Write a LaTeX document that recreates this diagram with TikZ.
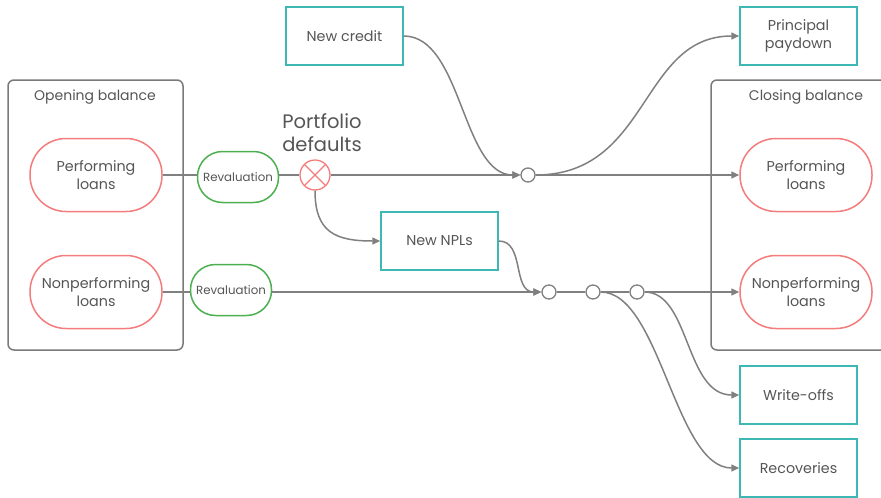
\documentclass[tikz,border=0pt]{standalone}
\usepackage{fontspec}
\setmainfont{Poppins}
\usetikzlibrary{arrows.meta}
\definecolor{flow}{HTML}{808080}
\definecolor{tealbox}{HTML}{3DB8B5}
\definecolor{loanred}{HTML}{F47C7C}
\definecolor{revgreen}{HTML}{4CAF50}
\definecolor{txt}{HTML}{555555}
\definecolor{frame}{HTML}{7A7A7A}
\begin{document}
\begin{tikzpicture}[x=1pt,y=-1pt,
  flowline/.style={draw=flow, line width=1.5pt},
  arr/.style={-{Triangle[length=8pt,width=7pt]}},
  basetext/.style={text=txt, align=center, inner sep=0pt, font=\fontsize{14.3}{18}\selectfont},
  stadium/.style={basetext, draw=loanred, line width=1.5pt, rounded corners=36pt,
    minimum width=132pt, minimum height=73pt},
  revbox/.style={basetext, draw=revgreen, line width=1.5pt, rounded corners=25pt,
    minimum width=81pt, minimum height=51pt, font=\fontsize{11.8}{14}\selectfont},
  account/.style={basetext, draw=tealbox, line width=1.5pt,
    minimum width=117pt, minimum height=58pt},
  junction/.style={circle, draw=flow, line width=1.3pt, fill=white,
    minimum size=14pt, inner sep=0pt},
  group/.style={draw=frame, line width=1.5pt, rounded corners=6pt, inner sep=0pt},
  defaultmark/.style={circle, draw=loanred, line width=1.3pt, minimum size=30pt, inner sep=0pt,
    path picture={\draw[loanred, line width=1.3pt]
      ([shift={(-10.6pt,-10.6pt)}]path picture bounding box.center) -- ([shift={(10.6pt,10.6pt)}]path picture bounding box.center)
      ([shift={(-10.6pt,10.6pt)}]path picture bounding box.center) -- ([shift={(10.6pt,-10.6pt)}]path picture bounding box.center);}}
]
\clip (0,0) rectangle (881,498);
\useasboundingbox (0,0) rectangle (881,498);

% balance frames
\node[group, minimum width=175pt, minimum height=270pt] (openframe) at (95.5,215) {};
\node[basetext, font=\fontsize{14}{18}\selectfont] (opentitle) at (95,97) {Opening balance};
\node[group, minimum width=190pt, minimum height=270pt] (closeframe) at (806,215) {};
\node[basetext, font=\fontsize{14}{18}\selectfont] (closetitle) at (806,97) {Closing balance};

% loan stocks
\node[stadium] (openperf) at (96,175) {Performing\\loans};
\node[stadium] (opennpl) at (96,292) {Nonperforming\\loans};
\node[stadium, fill=white] (closeperf) at (806,175) {Performing\\loans};
\node[stadium, fill=white] (closenpl) at (806,292) {Nonperforming\\loans};

% revaluations and defaults
\node[revbox] (rev1) at (238,177) {Revaluation};
\node[revbox] (rev2) at (231,290) {Revaluation};
\node[defaultmark] (defaults) at (315,175) {};
\node[basetext, font=\fontsize{19.5}{23}\selectfont] (deftitle) at (322,133) {Portfolio\\defaults};

% flow accounts
\node[account] (newcredit) at (344.5,36) {New credit};
\node[account] (paydown) at (798.5,36) {Principal\\paydown};
\node[account] (newnpl) at (439.5,241) {New NPLs};
\node[account] (writeoffs) at (798.5,395) {Write-offs};
\node[account] (recoveries) at (798.5,468) {Recoveries};

% junctions
\node[junction] (j0) at (528,175) {};
\node[junction] (j1) at (549,292) {};
\node[junction] (j2) at (593,292) {};
\node[junction] (j3) at (637,292) {};

% performing flow
\draw[flowline] (openperf.east) -- (openperf.east -| rev1.west);
\draw[flowline] (rev1.east |- defaults.west) -- (defaults.west);
\draw[flowline, arr] (defaults.east) -- (j0.west);
\draw[flowline, arr] (newcredit.east) .. controls (462,36) and (462,175) .. (j0.west);
\draw[flowline, arr] (j0.east) -- (closeperf.west);
\draw[flowline, arr] (j0.east) .. controls (650,175) and (640,36) .. (paydown.west);
\draw[flowline, arr] (defaults.south) .. controls (315,232) and (335,241) .. (newnpl.west);

% nonperforming flow
\draw[flowline] (opennpl.east) -- (opennpl.east -| rev2.west);
\draw[flowline, arr] (rev2.east |- j1.west) -- (j1.west);
\draw[flowline, arr] (newnpl.east) .. controls (525,241) and (512,292) .. (j1.west);
\draw[flowline] (j1.east) -- (j2.west);
\draw[flowline] (j2.east) -- (j3.west);
\draw[flowline, arr] (j3.east) -- (closenpl.west);
\draw[flowline, arr] (j3.east) .. controls (690,292) and (685,395) .. (writeoffs.west);
\draw[flowline, arr] (j2.east) .. controls (660,292) and (675,468) .. (recoveries.west);
\end{tikzpicture}
\end{document}
